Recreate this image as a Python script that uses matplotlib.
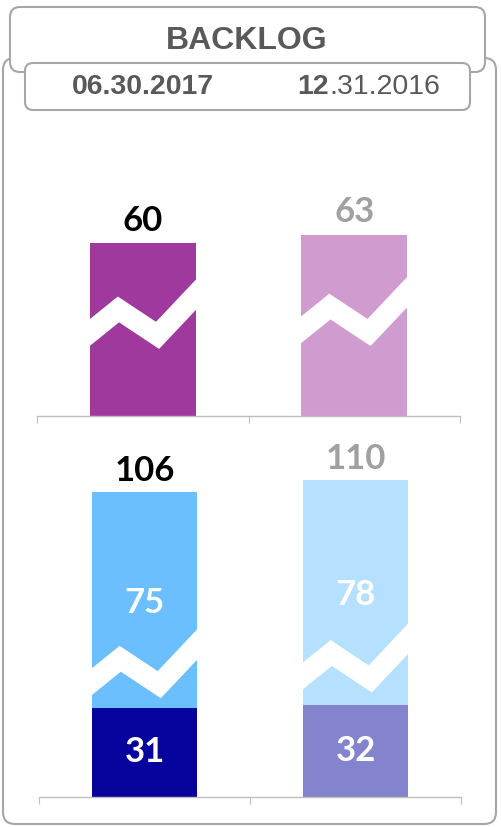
import numpy as np
import matplotlib.pyplot as plt
from matplotlib.patches import FancyBboxPatch

# figure size in pixels
W, H = 501, 827

# data
title = "BACKLOG"
period_a = "06.30.2017"
period_b_bold = "12"
period_b_rest = ".31.2016"
top_values = [60, 63]
bottom_low = [31, 32]
bottom_high = [75, 78]
bottom_totals = [106, 110]

# colours
top_colors = ["#A0399E", "#D09BCE"]
low_colors = ["#07049E", "#8383CE"]
high_colors = ["#6BBFFF", "#B5E0FF"]
total_colors = ["#000000", "#A0A0A0"]
box_color = "#A6A6A6"
head_color = "#595959"
axis_color = "#BFBFBF"

# axis-break zigzag shape (fraction of bar width, data offsets)
brk_dx = np.array([0.0, 0.27, 0.64, 1.0])
brk_dy = np.array([0, 8, -1, 13])
top_break_base = [29, 30]
bottom_break_base = [40, 42]

PX_PER_UNIT = 2.88
NUM_FONT = ["Lato", "DejaVu Sans"]
HEAD_FONT = ["Liberation Sans", "DejaVu Sans"]
NUM_SIZE = 25


def px_axes(fig, left, top, right, bottom):
    return fig.add_axes([left / W, 1 - bottom / H, (right - left) / W, (bottom - top) / H])


def style_axis(ax, ymax):
    ax.set_xlim(-0.5, 1.5)
    ax.set_ylim(0, ymax)
    ax.patch.set_alpha(0)
    for s in ["top", "left", "right"]:
        ax.spines[s].set_visible(False)
    ax.spines["bottom"].set_color(axis_color)
    ax.spines["bottom"].set_linewidth(1)
    ax.set_xticks([-0.5, 0.5, 1.5])
    ax.tick_params(axis="x", length=5, color=axis_color, labelbottom=False)
    ax.set_yticks([])


def draw_break(ax, bar, base):
    x0 = bar.get_x()
    w = bar.get_width()
    xs = x0 + w * brk_dx
    ys = base + brk_dy
    sl = (ys[1] - ys[0]) / (xs[1] - xs[0])
    sr = (ys[-1] - ys[-2]) / (xs[-1] - xs[-2])
    ext = 0.15 * w
    xs = np.r_[xs[0] - ext, xs, xs[-1] + ext]
    ys = np.r_[ys[0] - sl * ext, ys, ys[-1] + sr * ext]
    line, = ax.plot(xs, ys, color="white", lw=15, solid_joinstyle="miter",
                    solid_capstyle="butt", zorder=3)
    line.set_clip_path(bar)


fig = plt.figure(figsize=(W / 100, H / 100), dpi=100)

# header boxes drawn in a pixel-space background axes
bg = fig.add_axes([0, 0, 1, 1])
bg.set_xlim(0, W)
bg.set_ylim(H, 0)
bg.axis("off")
bg.add_patch(FancyBboxPatch((3, 58), 493, 766, boxstyle="round,pad=0,rounding_size=12",
                            ec=box_color, fc="white", lw=1.5))
bg.add_patch(FancyBboxPatch((10, 7), 475, 65, boxstyle="round,pad=0,rounding_size=10",
                            ec=box_color, fc="white", lw=1.5))
bg.add_patch(FancyBboxPatch((25, 63), 445, 47, boxstyle="round,pad=0,rounding_size=8",
                            ec=box_color, fc="white", lw=1.5))
bg.text(247, 41, title, ha="center", va="center", fontsize=23, fontweight="bold",
        color=head_color, family=HEAD_FONT)
bg.text(143, 87, period_a, ha="center", va="center", fontsize=20.5, fontweight="bold",
        color=head_color, family=HEAD_FONT)
bg.text(329, 87, period_b_bold, ha="right", va="center", fontsize=20.5, fontweight="bold",
        color=head_color, family=HEAD_FONT)
bg.text(329, 87, period_b_rest, ha="left", va="center", fontsize=20.5,
        color=head_color, family=HEAD_FONT)

x = np.arange(2)

# top panel
ax1 = px_axes(fig, 37, 140, 460, 416)
style_axis(ax1, (416 - 140) / PX_PER_UNIT)
bars = ax1.bar(x, top_values, width=0.5, color=top_colors, zorder=2)
for i, b in enumerate(bars):
    draw_break(ax1, b, top_break_base[i])
    ax1.annotate(str(top_values[i]), (x[i], top_values[i]), xytext=(0, 9),
                 textcoords="offset points", ha="center", va="baseline",
                 fontsize=NUM_SIZE, fontweight="bold", color=total_colors[i], family=NUM_FONT)

# bottom panel
ax2 = px_axes(fig, 39, 440, 461, 797)
style_axis(ax2, (797 - 440) / PX_PER_UNIT)
low = ax2.bar(x, bottom_low, width=0.5, color=low_colors, zorder=2)
high = ax2.bar(x, bottom_high, width=0.5, bottom=bottom_low, color=high_colors, zorder=2)
for i in range(2):
    draw_break(ax2, high[i], bottom_break_base[i])
    ax2.annotate(str(bottom_totals[i]), (x[i], bottom_low[i] + bottom_high[i]), xytext=(0, 8),
                 textcoords="offset points", ha="center", va="baseline",
                 fontsize=NUM_SIZE, fontweight="bold", color=total_colors[i], family=NUM_FONT)
    ax2.text(x[i], bottom_low[i] + bottom_high[i] / 2 - 1, str(bottom_high[i]),
             ha="center", va="center", fontsize=NUM_SIZE, fontweight="bold", color="white",
             family=NUM_FONT, zorder=4)
    ax2.text(x[i], bottom_low[i] / 2, str(bottom_low[i]),
             ha="center", va="center", fontsize=NUM_SIZE, fontweight="bold", color="white",
             family=NUM_FONT, zorder=4)

fig.savefig("out.png", dpi=100)
